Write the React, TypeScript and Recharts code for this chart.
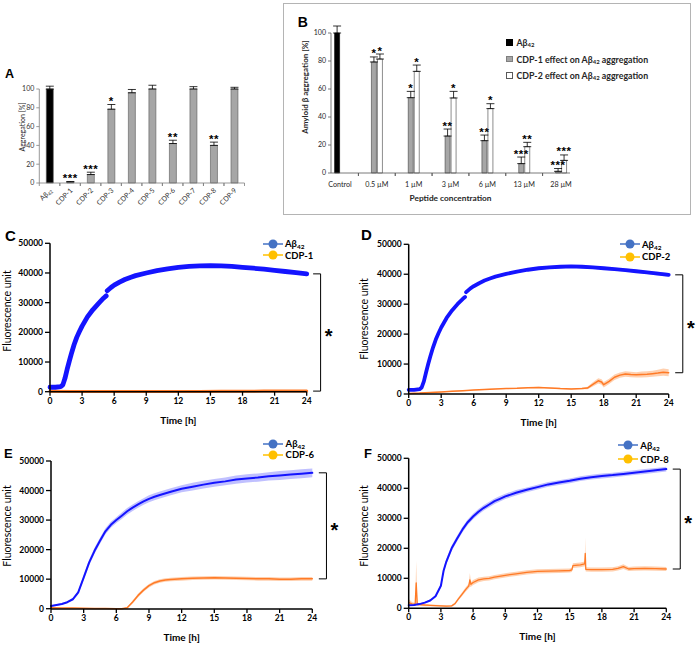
import React from 'react';
import {
  BarChart, Bar, XAxis, YAxis, ErrorBar, LabelList, Cell,
  ComposedChart, Line, Area, ReferenceLine,
} from 'recharts';

const FONT = 'Lato, "Liberation Sans", Arial, sans-serif';
const LETTER_FONT = '"Liberation Sans", Arial, sans-serif';
const STAR_FONT = '"Liberation Sans", Arial, sans-serif';

// ===== Panel A : aggregation screen =====
const aCategories = ['Aβ42', 'CDP-1', 'CDP-2', 'CDP-3', 'CDP-4', 'CDP-5', 'CDP-6', 'CDP-7', 'CDP-8', 'CDP-9'];
const aValues = [100, 1, 9, 78.5, 96, 100, 42, 100, 40, 100];
const aErrors = [3, 0.6, 2.5, 5, 3.5, 4, 3.5, 2.5, 3.5, 1.8];
const aStars = ['', '***', '***', '*', '', '', '**', '', '**', ''];
const aTicks = [0, 20, 40, 60, 80, 100];

// ===== Panel B : dose response =====
const bCategories = ['Control', '0.5 µM', '1 µM', '3 µM', '6 µM', '13 µM', '28 µM'];
const bAbeta = [100, null, null, null, null, null, null];
const bAbetaErr = [5, 0, 0, 0, 0, 0, 0];
const bCdp1 = [null, 79.3, 53.8, 26.4, 23.1, 6.7, 1.2];
const bCdp1Err = [0, 3.6, 4.5, 5, 4, 4.7, 2];
const bCdp2 = [null, 81.4, 72.6, 53.6, 46, 18.8, 9];
const bCdp2Err = [0, 3.6, 4.5, 4.7, 3.5, 3.1, 3.9];
const bCdp1Stars = ['', '*', '*', '**', '**', '***', '***'];
const bCdp2Stars = ['', '*', '*', '*', '*', '**', '***'];
const bTicks = [0, 20, 40, 60, 80, 100];
const bLegend = ['Aβ42', 'CDP-1 effect on Aβ42 aggregation', 'CDP-2 effect on Aβ42 aggregation'];

// ===== Kinetics (C-F) =====
const timeTicks = [0, 3, 6, 9, 12, 15, 18, 21, 24];
const fluoTicks = [0, 10000, 20000, 30000, 40000, 50000];

// C
const cTimeAb = [0, 0.5, 1, 1.2, 1.4, 1.6, 1.8, 2, 2.25, 2.5, 2.75, 3, 3.5, 4, 4.5, 5, 5.25, 5.3, 5.35, 5.7, 6, 6.5, 7, 7.5, 8, 9, 10, 11, 12, 13, 14, 15, 16, 17, 18, 19, 20, 21, 22, 23, 24];
const cAbeta = [1500, 1500, 1700, 2300, 4500, 7500, 10200, 12800, 15800, 18300, 20300, 22100, 25200, 27600, 29600, 31500, 32300, null, 34000, 35100, 35900, 36900, 37800, 38500, 39100, 40000, 40800, 41400, 41900, 42200, 42400, 42500, 42400, 42200, 41900, 41600, 41300, 40900, 40500, 40100, 39700];
const cTimeCdp = [0, 2, 4, 6, 8, 10, 12, 14, 16, 18, 20, 22, 24];
const cCdp1 = [150, 100, 50, 50, 50, 100, 100, 100, 150, 150, 200, 200, 200];

// D
const dTimeAb = [0, 0.5, 1, 1.2, 1.4, 1.6, 1.8, 2, 2.25, 2.5, 2.75, 3, 3.5, 4, 4.5, 5, 5.2, 5.25, 5.3, 5.7, 6, 6.5, 7, 7.5, 8, 9, 10, 11, 12, 13, 14, 15, 16, 17, 18, 19, 20, 21, 22, 23, 24];
const dAbeta = [1400, 1400, 1600, 2200, 4200, 7200, 10000, 12600, 15600, 18200, 20300, 22200, 25400, 27900, 30000, 31800, 32400, null, 34000, 35300, 36000, 37000, 37900, 38600, 39200, 40100, 40900, 41500, 42000, 42300, 42500, 42600, 42500, 42300, 42000, 41700, 41400, 41000, 40600, 40200, 39800];
const dAbetaErr = [150, 150, 150, 200, 300, 400, 400, 400, 400, 400, 400, 400, 400, 400, 400, 400, 400, 0, 400, 400, 400, 400, 400, 400, 400, 400, 400, 400, 500, 500, 500, 500, 500, 500, 500, 500, 500, 500, 500, 600, 600];
const dTimeCdp = [0, 1, 2, 3, 4, 5, 6, 7, 8, 9, 10, 11, 12, 13, 14, 15, 16, 16.5, 17, 17.5, 17.8, 18, 18.5, 19, 19.5, 20, 20.5, 21, 21.5, 22, 22.5, 23, 23.5, 24];
const dCdp2 = [200, 300, 500, 700, 900, 1100, 1300, 1500, 1700, 1800, 1900, 2100, 2200, 2000, 1800, 1700, 1800, 2000, 3200, 4400, 4000, 3100, 4200, 5600, 6300, 6700, 6500, 6400, 6500, 6600, 6800, 7000, 7300, 7100];
const dCdp2Err = [100, 100, 150, 150, 150, 150, 150, 150, 150, 150, 150, 150, 200, 200, 200, 200, 250, 400, 700, 900, 900, 900, 900, 900, 900, 900, 900, 900, 1000, 1000, 1000, 1100, 1200, 1200];

// E
const eTimeAb = [0, 1, 1.5, 2, 2.5, 3, 3.5, 4, 4.5, 5, 5.5, 6, 6.5, 7, 7.5, 8, 8.5, 9, 9.5, 10, 11, 12, 13, 14, 15, 16, 17, 18, 19, 20, 21, 22, 23, 24];
const eAbeta = [900, 1600, 2200, 3200, 5500, 10500, 15600, 19600, 23000, 26200, 28400, 30000, 31500, 33000, 34200, 35300, 36300, 37200, 37900, 38500, 39600, 40600, 41300, 42000, 42600, 43100, 43700, 44100, 44400, 44800, 45100, 45400, 45700, 46000];
const eAbetaErr = [200, 300, 300, 400, 600, 800, 1000, 1000, 1000, 1000, 1000, 1000, 1100, 1100, 1100, 1100, 1100, 1200, 1200, 1200, 1200, 1200, 1300, 1300, 1300, 1300, 1400, 1400, 1400, 1400, 1500, 1500, 1500, 1500];
const eTimeCdp = [0, 1, 2, 3, 4, 5, 6, 6.5, 7, 7.5, 8, 8.5, 9, 9.5, 10, 10.5, 11, 12, 13, 14, 15, 16, 17, 18, 19, 20, 21, 22, 23, 24];
const eCdp6 = [300, 250, 200, 150, 100, 50, 0, 0, 300, 2300, 4500, 6300, 7800, 8800, 9400, 9700, 9900, 10100, 10300, 10400, 10500, 10400, 10300, 10200, 10100, 10100, 10000, 10000, 10100, 10100];
const eCdp6Err = [100, 100, 100, 100, 100, 100, 100, 100, 200, 500, 600, 600, 600, 600, 600, 600, 600, 600, 600, 600, 600, 600, 600, 600, 600, 600, 600, 600, 600, 600];

// F
const fTimeAb = [0, 0.5, 1, 1.5, 2, 2.5, 3, 3.25, 3.5, 4, 4.5, 5, 5.5, 6, 6.5, 7, 7.5, 8, 8.5, 9, 9.5, 10, 11, 12, 13, 14, 15, 16, 17, 18, 19, 20, 21, 22, 23, 24];
const fAbeta = [1000, 1100, 1400, 1900, 2600, 4000, 7500, 12500, 15500, 20000, 23200, 26200, 28700, 30600, 32200, 33500, 34600, 35700, 36500, 37300, 37900, 38500, 39500, 40400, 41300, 41900, 42500, 43200, 43700, 44100, 44400, 44800, 45200, 45600, 46000, 46400];
const fAbetaErr = [200, 200, 200, 300, 300, 400, 600, 800, 900, 900, 900, 900, 900, 900, 900, 900, 900, 900, 900, 900, 900, 900, 800, 800, 800, 800, 800, 800, 800, 800, 800, 800, 800, 800, 800, 800];
const fTimeCdp = [0, 0.3, 0.6, 0.7, 0.8, 1.5, 2, 2.5, 3, 3.5, 4, 4.3, 4.6, 5, 5.3, 5.6, 5.7, 5.8, 6, 6.5, 7, 7.5, 8, 9, 10, 11, 12, 13, 14, 15, 15.2, 15.3, 16, 16.4, 16.45, 16.5, 17, 18, 19, 19.5, 20, 20.5, 21, 22, 23, 24];
const fCdp8 = [1900, 1500, 1300, 8500, 1300, 1100, 1000, 900, 800, 700, 800, 1500, 3000, 4800, 6200, 7500, 9500, 8000, 8600, 9500, 9800, 10000, 10400, 11000, 11500, 12000, 12300, 12400, 12500, 12600, 12800, 14200, 14500, 14800, 18300, 13000, 12900, 12900, 13000, 13300, 13900, 13100, 13200, 13300, 13200, 13100];
const fCdp8Err = [1200, 600, 500, 7300, 500, 400, 300, 300, 300, 300, 300, 400, 500, 600, 700, 800, 2300, 800, 800, 800, 700, 700, 700, 700, 700, 700, 700, 700, 700, 700, 700, 800, 800, 800, 5300, 700, 700, 700, 700, 700, 800, 700, 700, 700, 700, 700];

const BLUE = '#1414ff';
const BLUE_BAND = '#8c8cff';
const ORANGE = '#ff7a26';
const ORANGE_BAND = '#ffb07a';
const LEG_BLUE = '#4472c4';
const LEG_ORANGE = '#ffc000';

type Row = { t: number; v: number | null; band?: [number, number] };

function makeRows(times: number[], values: (number | null)[], errs?: number[]): Row[] {
  return times.map((t, i) => {
    const v = values[i];
    const row: Row = { t, v };
    if (errs && v != null) row.band = [v - errs[i], v + errs[i]];
    return row;
  });
}

function lastVal(rows: Row[]): number {
  for (let i = rows.length - 1; i >= 0; i--) {
    const v = rows[i].v;
    if (v != null) return v;
  }
  return 0;
}

function svgSub(label: string) {
  const idx = label.indexOf('Aβ42');
  if (idx < 0) return label;
  return (
    <>
      {label.slice(0, idx)}Aβ
      <tspan fontSize="0.68em" dy="0.3em">42</tspan>
    </>
  );
}

function htmlSub(label: string) {
  const parts = label.split('Aβ42');
  const out: React.ReactNode[] = [];
  parts.forEach((p, i) => {
    out.push(<span key={'p' + i}>{p}</span>);
    if (i < parts.length - 1) {
      out.push(
        <span key={'s' + i}>
          Aβ<sub style={{ fontSize: '0.68em', verticalAlign: '-0.25em', lineHeight: 0 }}>42</sub>
        </span>
      );
    }
  });
  return out;
}

// label value encodes "stars|error|value" so that positioning does not depend on index
function starTag(s: string, e: number, v: number | null) {
  return v == null || !s ? '' : `${s}|${e}|${v}`;
}

function starContent(fs: number) {
  return (props: any) => {
    const raw = String(props.value ?? '');
    if (!raw) return null;
    const [s, eStr, vStr] = raw.split('|');
    const e = Number(eStr);
    const v = Number(vStr);
    const vb = props.viewBox || {};
    const x = Number(props.x ?? vb.x);
    const y = Number(props.y ?? vb.y);
    const w = Number(props.width ?? vb.width);
    const h = Number(props.height ?? vb.height);
    const errPx = v > 0 ? (e / v) * h : 0;
    return (
      <text x={x + w / 2} y={y - errPx + 0.5} textAnchor="middle" fontSize={fs} fontWeight={700}
        fontFamily={STAR_FONT} fill="#000" letterSpacing={0.6}>{s}</text>
    );
  };
}

// ---------- Panel A ----------
const A_LEFT = 0, A_TOP = 60, A_W = 255, A_H = 160;
const A_PL = 39.3, A_PR = 244.5, A_Y0 = 183, A_Y100 = 89;
const A_DMAX = 105;
const aHalf = (A_PR - A_PL) / aCategories.length / 2;

function ATick(props: any) {
  const { x, y, payload } = props;
  const label = String(payload.value);
  return (
    <g>
      <line x1={x - aHalf} x2={x - aHalf} y1={y} y2={y + 3} stroke="#7f7f7f" strokeWidth={0.8} />
      <line x1={x + aHalf} x2={x + aHalf} y1={y} y2={y + 3} stroke="#7f7f7f" strokeWidth={0.8} />
      <text transform={`translate(${x + 3},${y + 8}) rotate(-45)`} textAnchor="end" fontSize={7}
        fontFamily={FONT} fill="#333">{svgSub(label)}</text>
    </g>
  );
}

function PanelA() {
  const data = aCategories.map((c, i) => ({
    c, v: aValues[i], e: [0, aErrors[i]], s: starTag(aStars[i], aErrors[i], aValues[i]),
  }));
  const plotTop = A_Y0 - (A_Y0 - A_Y100) * (A_DMAX / 100);
  const xAxisH = 30;
  const margin = { top: plotTop - A_TOP, right: A_LEFT + A_W - A_PR, left: 0, bottom: A_TOP + A_H - A_Y0 - xAxisH };
  return (
    <div style={{ position: 'absolute', left: A_LEFT, top: A_TOP }}>
      <BarChart width={A_W} height={A_H} data={data} margin={margin} barSize={7}>
        <XAxis dataKey="c" type="category" interval={0} tickLine={false} tickSize={0} tickMargin={0}
          height={xAxisH} axisLine={{ stroke: '#7f7f7f', strokeWidth: 0.8 }} tick={<ATick />} />
        <YAxis type="number" domain={[0, A_DMAX]} ticks={aTicks} width={A_PL - A_LEFT} axisLine={false}
          tickLine={{ stroke: '#7f7f7f', strokeWidth: 0.8 }} tickSize={3}
          tick={{ fontSize: 7, fill: '#333', fontFamily: FONT }}
          label={{
            content: () => (
              <text transform={`translate(${24.5},${127 - A_TOP}) rotate(-90)`} textAnchor="middle"
                fontSize={7} fontFamily={FONT} fill="#262626">Aggregation [%]</text>
            ),
          }} />
        <ReferenceLine segment={[{ x: aCategories[0], y: 0 }, { x: aCategories[0], y: 100 }]} position="start"
          stroke="#7f7f7f" strokeWidth={0.8} ifOverflow="visible" />
        <Bar dataKey="v" isAnimationActive={false} stroke="#595959" strokeWidth={0.6}>
          {data.map((d, i) => (
            <Cell key={i} fill={i === 0 ? '#000000' : '#a6a6a6'} />
          ))}
          <ErrorBar dataKey="e" direction="y" width={4} stroke="#000" strokeWidth={0.8} />
          <LabelList dataKey="s" content={starContent(11.5)} />
        </Bar>
      </BarChart>
    </div>
  );
}

// ---------- Panel B ----------
const B_LEFT = 283, B_TOP = 3, B_W = 407, B_H = 211;
const B_PL = 331, B_PR = 570, B_Y0 = 173, B_Y100 = 33;
const B_PAD = -9.4; // categories reach slightly past the axis ends
const B_DMAX = 106;
const bHalf = (B_PR - B_PL - 2 * B_PAD) / bCategories.length / 2;

function BTick(props: any) {
  const { x, y, payload } = props;
  const marks = [x - bHalf, x + bHalf].filter((m) => m >= B_PL - B_LEFT - 0.5 && m <= B_PR - B_LEFT + 0.5);
  return (
    <g>
      {marks.map((m, i) => (
        <line key={i} x1={m} x2={m} y1={y} y2={y + 3} stroke="#595959" strokeWidth={0.8} />
      ))}
      <text x={x} y={y + 14} textAnchor="middle" fontSize={7.2} fontFamily={FONT} fill="#262626">{payload.value}</text>
    </g>
  );
}

function PanelB() {
  // The Aβ42 control is the first point of the first bar series (drawn black).
  const data = bCategories.map((c, i) => {
    const isCtrl = bAbeta[i] != null;
    const v1 = isCtrl ? bAbeta[i] : bCdp1[i];
    const e1 = isCtrl ? bAbetaErr[i] : bCdp1Err[i];
    return {
      c,
      p1: v1, p1E: [0, e1], p1S: isCtrl ? '' : starTag(bCdp1Stars[i], bCdp1Err[i], bCdp1[i]),
      p2: bCdp2[i], p2E: [0, bCdp2Err[i]], p2S: starTag(bCdp2Stars[i], bCdp2Err[i], bCdp2[i]),
      ctrl: isCtrl,
    };
  });
  const plotTop = B_Y0 - (B_Y0 - B_Y100) * (B_DMAX / 100);
  const xAxisH = 30;
  const margin = { top: plotTop - B_TOP, right: B_LEFT + B_W - B_PR, left: 0, bottom: B_TOP + B_H - B_Y0 - xAxisH };
  return (
    <div style={{ position: 'absolute', left: B_LEFT, top: B_TOP }}>
      <BarChart width={B_W} height={B_H} data={data} margin={margin} barSize={5} barGap={1}>
        <XAxis dataKey="c" type="category" interval={0} tickLine={false} tickSize={0} tickMargin={0}
          padding={{ left: B_PAD, right: B_PAD }}
          height={xAxisH} axisLine={{ stroke: '#595959', strokeWidth: 0.8 }} tick={<BTick />}
          label={{
            content: (p: any) => {
              const vb = p.viewBox || {};
              return (
                <text x={vb.x + vb.width / 2} y={vb.y + 28} textAnchor="middle" fontSize={8.3} fontWeight={700}
                  fontFamily={FONT} fill="#262626">Peptide concentration</text>
              );
            },
          }} />
        <YAxis type="number" domain={[0, B_DMAX]} ticks={bTicks} width={B_PL - B_LEFT} axisLine={false}
          tickLine={{ stroke: '#595959', strokeWidth: 0.8 }} tickSize={3}
          tick={{ fontSize: 7, fill: '#262626', fontFamily: FONT }}
          label={{
            content: () => (
              <text transform={`translate(${308 - B_LEFT},${87 - B_TOP}) rotate(-90)`} textAnchor="middle"
                fontSize={8} fontWeight={700} fontFamily={FONT} fill="#262626">Amyloid β aggregation [%]</text>
            ),
          }} />
        <Bar dataKey="p1" isAnimationActive={false} stroke="#404040" strokeWidth={0.6}>
          {data.map((d, i) => (
            <Cell key={i} fill={d.ctrl ? '#000000' : '#a6a6a6'} stroke={d.ctrl ? '#000' : '#404040'} />
          ))}
          <ErrorBar dataKey="p1E" direction="y" width={4} stroke="#000" strokeWidth={0.8} />
          <LabelList dataKey="p1S" content={starContent(11.5)} />
        </Bar>
        <Bar dataKey="p2" isAnimationActive={false} fill="#ffffff" stroke="#404040" strokeWidth={0.6}>
          <ErrorBar dataKey="p2E" direction="y" width={4} stroke="#000" strokeWidth={0.8} />
          <LabelList dataKey="p2S" content={starContent(11.5)} />
        </Bar>
      </BarChart>
      <svg width={B_W} height={B_H} style={{ position: 'absolute', left: 0, top: 0, pointerEvents: 'none' }}>
        <line x1={B_PL - B_LEFT} x2={B_PL - B_LEFT} y1={B_Y0 - B_TOP} y2={B_Y100 - B_TOP} stroke="#595959" strokeWidth={0.8} />
      </svg>
    </div>
  );
}

function BLegend() {
  const swatches = [
    { fill: '#000', stroke: '#000' },
    { fill: '#a6a6a6', stroke: '#7f7f7f' },
    { fill: '#fff', stroke: '#595959' },
  ];
  return (
    <div style={{ position: 'absolute', left: 506, top: 34, fontFamily: FONT, fontSize: 8.8, fontWeight: 700, color: '#262626' }}>
      {bLegend.map((t, i) => (
        <div key={i} style={{ display: 'flex', alignItems: 'center', height: 16.7, whiteSpace: 'nowrap' }}>
          <div style={{ width: 4.5, height: 4.5, background: swatches[i].fill, border: `0.8px solid ${swatches[i].stroke}`, marginRight: 4 }} />
          <span>{htmlSub(t)}</span>
        </div>
      ))}
    </div>
  );
}

// ---------- Kinetic panels ----------
type KP = {
  left: number; top: number; width: number; height: number;
  plotL: number; plotR: number; plotT: number; plotB: number;
  yLabelX: number; yLabelCY: number;
  blue: Row[]; blueW: number; blueBand: boolean;
  orange: Row[]; orangeW: number; orangeBand: boolean;
  cdpName: string; legendX: number; legendY: number; legendGap: number;
};

const BRACKET_START = 24.6;
const BRACKET_X = 25.3;

function KineticPanel(p: KP) {
  const xAxisH = 36;
  const margin = {
    top: p.plotT - p.top,
    right: p.left + p.width - p.plotR,
    left: 0,
    bottom: p.top + p.height - p.plotB - xAxisH,
  };
  const topV = lastVal(p.blue);
  const botV = lastVal(p.orange);
  return (
    <>
      <div style={{ position: 'absolute', left: p.left, top: p.top }}>
        <ComposedChart width={p.width} height={p.height} margin={margin}>
          <XAxis dataKey="t" type="number" domain={[0, 24]} ticks={timeTicks} interval={0} height={xAxisH}
            axisLine={{ stroke: '#000', strokeWidth: 1.5 }} tickLine={{ stroke: '#000', strokeWidth: 1.3 }} tickSize={4}
            tick={{ fill: '#000', fontSize: 8.5, fontWeight: 700, fontFamily: FONT }}
            label={{
              content: (lp: any) => {
                const vb = lp.viewBox || {};
                return (
                  <text x={vb.x + vb.width / 2} y={vb.y + 32} textAnchor="middle" fontSize={10} fontWeight={700}
                    fontFamily={FONT} fill="#000">Time [h]</text>
                );
              },
            }} />
          <YAxis type="number" domain={[0, 50000]} ticks={fluoTicks} interval={0} width={p.plotL - p.left}
            axisLine={{ stroke: '#000', strokeWidth: 1.5 }} tickLine={{ stroke: '#000', strokeWidth: 1.3 }} tickSize={5}
            tick={{ fill: '#000', fontSize: 8.5, fontWeight: 700, fontFamily: FONT }}
            label={{
              content: () => (
                <text transform={`translate(${p.yLabelX - p.left + 3.7},${p.yLabelCY - p.top}) rotate(-90)`}
                  textAnchor="middle" fontSize={10.5} fontFamily={FONT} fill="#000">Fluorescence unit</text>
              ),
            }} />
          {p.blueBand && (
            <Area data={p.blue} dataKey="band" stroke="none" fill={BLUE_BAND} fillOpacity={0.55}
              isAnimationActive={false} connectNulls={false} />
          )}
          {p.orangeBand && (
            <Area data={p.orange} dataKey="band" stroke="none" fill={ORANGE_BAND} fillOpacity={0.6}
              isAnimationActive={false} connectNulls={false} />
          )}
          <Line data={p.orange} dataKey="v" stroke={ORANGE} strokeWidth={p.orangeW} dot={false}
            isAnimationActive={false} strokeLinejoin="round" strokeLinecap="round" />
          <Line data={p.blue} dataKey="v" stroke={BLUE} strokeWidth={p.blueW} dot={false}
            isAnimationActive={false} connectNulls={false} strokeLinejoin="round" strokeLinecap="round" />
          <ReferenceLine segment={[{ x: BRACKET_START, y: topV }, { x: BRACKET_X, y: topV }]}
            stroke="#000" strokeWidth={1} ifOverflow="visible" />
          <ReferenceLine segment={[{ x: BRACKET_X, y: topV }, { x: BRACKET_X, y: botV }]}
            stroke="#000" strokeWidth={1} ifOverflow="visible"
            label={{
              content: (lp: any) => {
                const vb = lp.viewBox || {};
                const cy = vb.y + Math.abs(vb.height) / 2;
                return (
                  <text x={vb.x + 8} y={cy + 11} textAnchor="middle" fontSize={20} fontWeight={700}
                    fontFamily={STAR_FONT} fill="#000">*</text>
                );
              },
            }} />
          <ReferenceLine segment={[{ x: BRACKET_START, y: botV }, { x: BRACKET_X, y: botV }]}
            stroke="#000" strokeWidth={1} ifOverflow="visible" />
        </ComposedChart>
      </div>
      <div style={{ position: 'absolute', left: p.legendX - 10, top: p.legendY - 6, fontFamily: FONT, fontSize: 9.5, fontWeight: 700 }}>
        {[{ c: LEG_BLUE, t: 'Aβ42' }, { c: LEG_ORANGE, t: p.cdpName }].map((it, i) => (
          <div key={i} style={{ display: 'flex', alignItems: 'center', height: p.legendGap, whiteSpace: 'nowrap' }}>
            <svg width={20} height={12} style={{ display: 'block' }}>
              <line x1={0} y1={6} x2={20} y2={6} stroke={it.c} strokeWidth={1.5} />
              <circle cx={10} cy={6} r={4.5} fill={it.c} />
            </svg>
            <span style={{ marginLeft: 2.3 }}>{htmlSub(it.t)}</span>
          </div>
        ))}
      </div>
    </>
  );
}

function Letters() {
  const letters = [
    { t: 'A', x: 5, y: 78.3, s: 12.5 },
    { t: 'B', x: 297.7, y: 26.7, s: 14 },
    { t: 'C', x: 5, y: 241, s: 15 },
    { t: 'D', x: 361, y: 240, s: 15 },
    { t: 'E', x: 4, y: 458.3, s: 13 },
    { t: 'F', x: 364, y: 458, s: 13 },
  ];
  return (
    <svg width={697} height={646} style={{ position: 'absolute', left: 0, top: 0, pointerEvents: 'none' }}>
      {letters.map((l) => (
        <text key={l.t} x={l.x} y={l.y} fontSize={l.s} fontWeight={700} fontFamily={LETTER_FONT} fill="#000">{l.t}</text>
      ))}
    </svg>
  );
}

export default function App() {
  return (
    <div style={{ position: 'absolute', left: 0, top: 0, width: 697, height: 646, background: '#fff', overflow: 'hidden', fontFamily: FONT }}>
      <div style={{ position: 'absolute', left: 283, top: 3, width: 406, height: 210, border: '1px solid #b4b4b4' }} />
      <PanelA />
      <PanelB />
      <BLegend />
      <KineticPanel left={0} top={222} width={348} height={215}
        plotL={50} plotR={306.7} plotT={243.3} plotB={391.7} yLabelX={7.2} yLabelCY={311}
        blue={makeRows(cTimeAb, cAbeta)} blueW={4.8} blueBand={false}
        orange={makeRows(cTimeCdp, cCdp1)} orangeW={3} orangeBand={false}
        cdpName="CDP-1" legendX={272.7} legendY={244.3} legendGap={11.4} />
      <KineticPanel left={348} top={222} width={349} height={215}
        plotL={408.7} plotR={668.7} plotT={244.3} plotB={394} yLabelX={364.7} yLabelCY={319}
        blue={makeRows(dTimeAb, dAbeta, dAbetaErr)} blueW={3.8} blueBand={true}
        orange={makeRows(dTimeCdp, dCdp2, dCdp2Err)} orangeW={1.5} orangeBand={true}
        cdpName="CDP-2" legendX={629.7} legendY={244.3} legendGap={12.3} />
      <KineticPanel left={0} top={440} width={348} height={206}
        plotL={51} plotR={312.3} plotT={461} plotB={609} yLabelX={7.3} yLabelCY={526}
        blue={makeRows(eTimeAb, eAbeta, eAbetaErr)} blueW={2} blueBand={true}
        orange={makeRows(eTimeCdp, eCdp6, eCdp6Err)} orangeW={1.5} orangeBand={true}
        cdpName="CDP-6" legendX={273.3} legendY={444} legendGap={11} />
      <KineticPanel left={348} top={440} width={349} height={206}
        plotL={408.7} plotR={666.3} plotT={458.3} plotB={608.3} yLabelX={364.7} yLabelCY={526}
        blue={makeRows(fTimeAb, fAbeta, fAbetaErr)} blueW={2} blueBand={true}
        orange={makeRows(fTimeCdp, fCdp8, fCdp8Err)} orangeW={1.3} orangeBand={true}
        cdpName="CDP-8" legendX={628} legendY={444} legendGap={14} />
      <Letters />
    </div>
  );
}
